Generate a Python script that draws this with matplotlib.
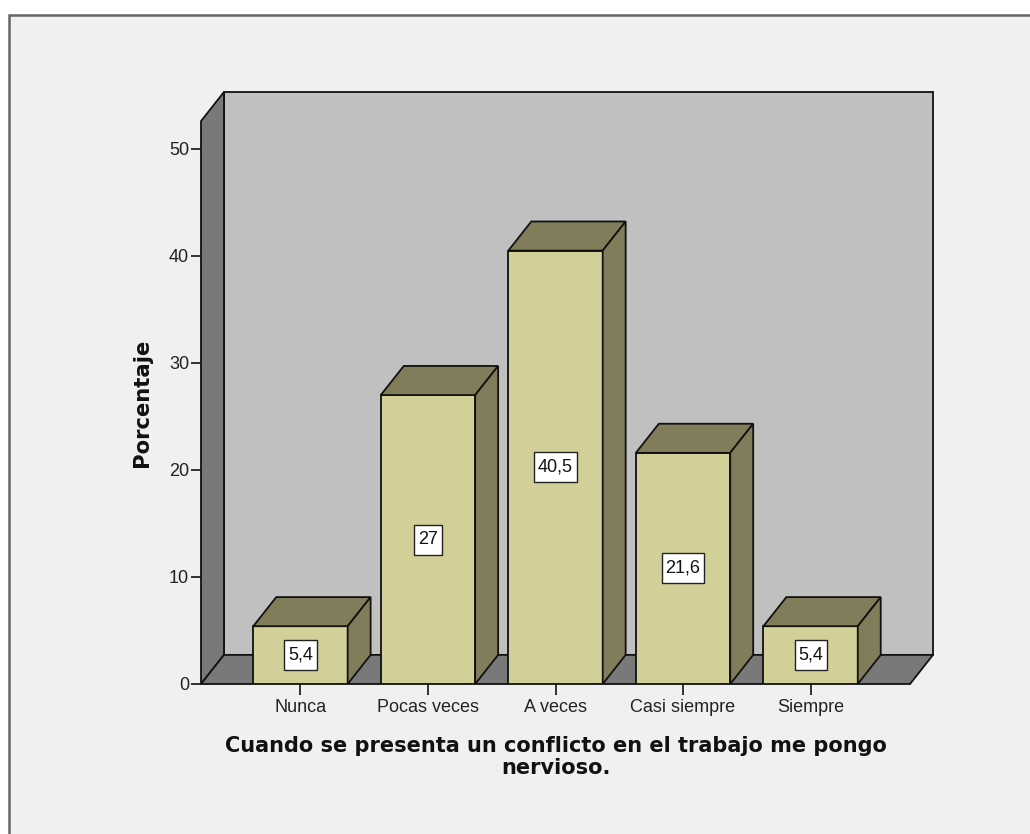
import matplotlib
matplotlib.use("Agg")
import matplotlib.pyplot as plt
from matplotlib.patches import Polygon, Rectangle
from matplotlib.path import Path

# ---- data -------------------------------------------------------------
categories = ["Nunca", "Pocas veces", "A veces", "Casi siempre", "Siempre"]
percentages = [5.4, 27.0, 40.5, 21.6, 5.4]
value_labels = ["5,4", "27", "40,5", "21,6", "5,4"]
y_ticks = [0, 10, 20, 30, 40, 50]
x_title = "Cuando se presenta un conflicto en el trabajo me pongo\nnervioso."
y_title = "Porcentaje"

# ---- style ------------------------------------------------------------
BAR_FRONT = "#d3cf98"
BAR_SHADE = "#817d5a"
WALL_BACK = "#c0c0c0"
WALL_DARK = "#797979"
PANEL_BG = "#f0f0f0"
EDGE = "#111111"
LW = 1.3
TICK_FS = 13

W, H, DPI = 1030, 834, 100
fig = plt.figure(figsize=(W / DPI, H / DPI), dpi=DPI, facecolor="white")

# chart panel with a grey border
fig.add_artist(Rectangle((9 / W, -0.05), 1.2, (H - 15) / H + 0.05,
                         transform=fig.transFigure, facecolor=PANEL_BG,
                         edgecolor="#666666", lw=1.8, zorder=0))

ax = fig.add_axes([201 / W, 1 - 684 / H, (933 - 201) / W, (684 - 92) / H])
ax.set_facecolor("none")

# pseudo-3D box geometry (data units)
x_lo, x_hi = -0.78, len(categories) - 1 + 0.78
dx, dy = 0.18, 2.72
wall_top = 52.6
bar_w = 0.74

ax.set_xlim(x_lo, x_hi + dx)
ax.set_ylim(0, wall_top + dy)
for s in ax.spines.values():
    s.set_visible(False)

# walls and floor
ax.add_patch(Polygon([(x_lo + dx, dy), (x_lo + dx, wall_top + dy),
                      (x_hi + dx, wall_top + dy), (x_hi + dx, dy)],
                     closed=True, fc=WALL_BACK, ec=EDGE, lw=LW, clip_on=False, zorder=1))
ax.add_patch(Polygon([(x_lo, 0), (x_lo, wall_top), (x_lo + dx, wall_top + dy),
                      (x_lo + dx, dy)],
                     closed=True, fc=WALL_DARK, ec=EDGE, lw=LW, clip_on=False, zorder=1.5))
ax.add_patch(Polygon([(x_lo, 0), (x_lo + dx, dy), (x_hi + dx, dy), (x_hi, 0)],
                     closed=True, fc=WALL_DARK, ec=EDGE, lw=LW, clip_on=False, zorder=1.5))

# bars: front faces plus shaded top and side
xs = list(range(len(categories)))
ax.bar(xs, percentages, width=bar_w, color=BAR_FRONT, edgecolor=EDGE,
       lw=LW, zorder=3)
for x, v in zip(xs, percentages):
    l, r = x - bar_w / 2, x + bar_w / 2
    ax.add_patch(Polygon([(l, v), (l + dx, v + dy), (r + dx, v + dy), (r, v)],
                         closed=True, fc=BAR_SHADE, ec=EDGE, lw=LW, zorder=3))
    ax.add_patch(Polygon([(r, 0), (r, v), (r + dx, v + dy), (r + dx, dy)],
                         closed=True, fc=BAR_SHADE, ec=EDGE, lw=LW, zorder=3))


def label_box(x0, y0, width, height, mutation_size):
    """Rectangle with a little more vertical than horizontal padding."""
    px, py = 0.2 * mutation_size, 0.36 * mutation_size
    x1, y1 = x0 - px, y0 - py
    x2, y2 = x0 + width + px, y0 + height + py
    return Path([(x1, y1), (x2, y1), (x2, y2), (x1, y2), (x1, y1)],
                [Path.MOVETO, Path.LINETO, Path.LINETO, Path.LINETO, Path.CLOSEPOLY])


# value labels in white boxes
for x, v, lab in zip(xs, percentages, value_labels):
    ax.text(x, v / 2, lab, ha="center", va="center", fontsize=TICK_FS,
            family="Liberation Sans", color="#111111", zorder=5,
            bbox=dict(boxstyle=label_box, fc="white", ec="#222222", lw=1.0))

# axes ticks
ax.set_yticks(y_ticks)
ax.set_yticklabels([str(t) for t in y_ticks])
ax.set_xticks(xs)
ax.set_xticklabels(categories)
ax.tick_params(axis="y", length=7.5, width=1.2, pad=1, labelsize=TICK_FS,
               color=EDGE, labelcolor="#222222")
ax.tick_params(axis="x", length=8, width=1.2, pad=3, labelsize=TICK_FS,
               color=EDGE, labelcolor="#222222")
for lab in ax.get_xticklabels() + ax.get_yticklabels():
    lab.set_family("Liberation Sans")

# titles
ax.text(-0.0806, (wall_top / 2) / (wall_top + dy), y_title, transform=ax.transAxes,
        rotation=90, ha="center", va="center", fontsize=15.2, fontweight="bold",
        family="DejaVu Sans", color="#111111")
ax.text((len(categories) - 1) / 2, -0.087, x_title,
        transform=ax.get_xaxis_transform(), ha="center", va="top",
        fontsize=15, fontweight="bold", family="DejaVu Sans", color="#111111",
        linespacing=1.15)

fig.savefig("out.png", dpi=DPI, facecolor=fig.get_facecolor())
